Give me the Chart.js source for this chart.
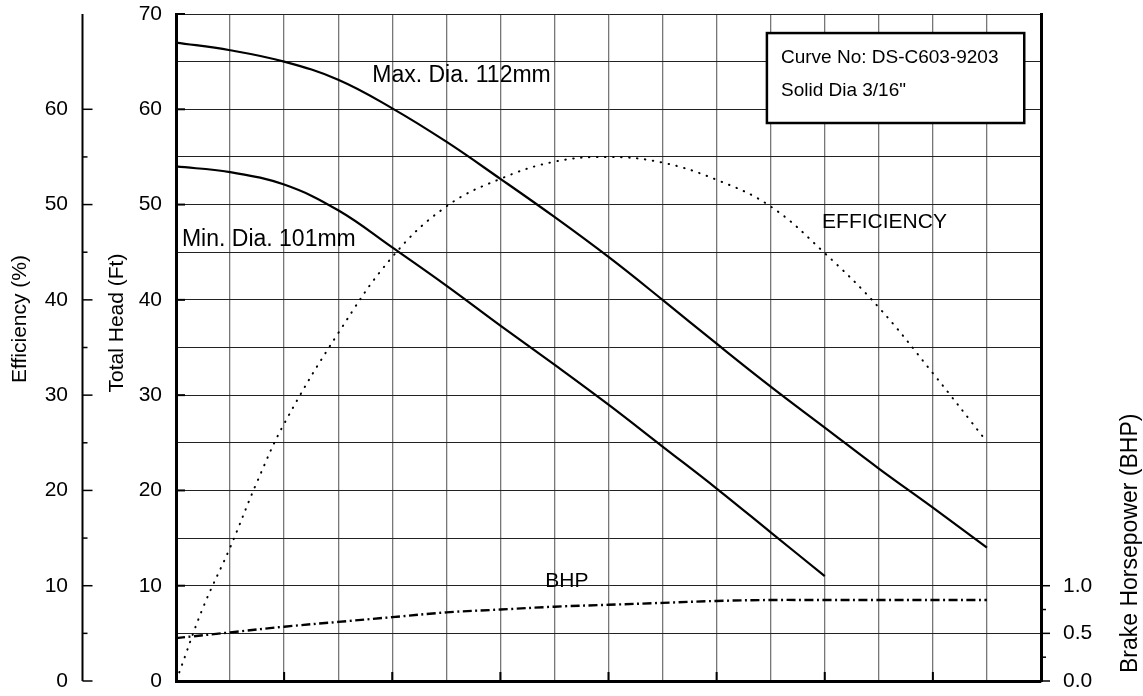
<!DOCTYPE html>
<html>
<head>
<meta charset="utf-8">
<script src="https://cdn.jsdelivr.net/npm/chart.js@4/dist/chart.umd.min.js"></script>
<style>
  html, body { margin: 0; padding: 0; background: #fff; }
  #wrap { width: 1143px; height: 696px; position: relative; }
</style>
</head>
<body>
<div id="wrap"><canvas id="pumpChart"></canvas></div>
<script>
// flow axis has no labels, points are placed on the 16 grid columns
const maxDiaFlow = [0, 1, 2, 3, 4, 5, 6, 7, 8, 9, 10, 11, 12, 13, 14, 15];
const maxDiaHead = [67.0, 66.2, 65.0, 63.1, 60.1, 56.6, 52.7, 48.7, 44.5, 40.0, 35.4, 30.9, 26.6, 22.3, 18.2, 14.0];

const minDiaFlow = [0, 1, 2, 3, 4, 5, 6, 7, 8, 9, 10, 11, 12];
const minDiaHead = [54.0, 53.4, 52.1, 49.4, 45.5, 41.5, 37.3, 33.2, 29.0, 24.6, 20.2, 15.6, 11.0];

const effFlow = [0.06, 0.5, 1, 1.5, 2, 3, 4, 5, 6, 7, 8, 9, 10, 11, 12, 13, 14, 15];
const effPct = [0.9, 7.7, 14.0, 20.9, 27.0, 36.5, 44.5, 49.8, 52.7, 54.5, 55.0, 54.4, 52.6, 49.8, 44.9, 39.2, 32.3, 25.1];

const bhpFlow = [0, 1, 2, 3, 4, 5, 6, 7, 8, 9, 10, 11, 12, 13, 14, 15];
const bhpVals = [0.45, 0.51, 0.57, 0.62, 0.67, 0.72, 0.75, 0.78, 0.80, 0.82, 0.84, 0.85, 0.85, 0.85, 0.85, 0.85];

const headTicks = [0, 10, 20, 30, 40, 50, 60, 70];
const effTicks = [0, 10, 20, 30, 40, 50, 60];
const bhpTicks = [0, 0.5, 1.0];

const FONT = '"Liberation Sans", Arial, Helvetica, sans-serif';
Chart.defaults.font.family = FONT;
Chart.defaults.color = '#000';

function pts(xs, ys) {
  return xs.map((x, i) => ({ x: x, y: ys[i] }));
}

// big tick paddings would otherwise push the plot area in
function fixWidth(w) {
  return s => { s.width = w; s.paddingTop = 0; s.paddingBottom = 0; };
}

// curve labels, placed in data units (flow column, head ft)
const curveLabels = [
  { text: 'Max. Dia. 112mm', x: 3.63, y: 62.85, size: 23 },
  { text: 'Min. Dia. 101mm', x: 0.11, y: 45.65, size: 23 },
  { text: 'EFFICIENCY', x: 11.95, y: 47.54, size: 21 },
  { text: 'BHP', x: 6.83, y: 9.86, size: 21 }
];

const extras = {
  id: 'extras',
  afterDraw(chart) {
    const c = chart.ctx;
    const xs = chart.scales.x;
    const ys = chart.scales.y;
    const bs = chart.scales.yBhp;
    const area = chart.chartArea;
    c.save();
    c.strokeStyle = '#000';
    c.fillStyle = '#000';

    // efficiency axis line + ticks
    const ex = 82.5;
    c.lineWidth = 2;
    c.beginPath();
    c.moveTo(ex, ys.getPixelForValue(70));
    c.lineTo(ex, ys.getPixelForValue(0));
    c.stroke();
    c.lineWidth = 1.5;
    for (let v = 0; v <= 60; v += 5) {
      const py = ys.getPixelForValue(v);
      c.beginPath();
      c.moveTo(ex, py);
      c.lineTo(ex + (v % 10 === 0 ? 10 : 5), py);
      c.stroke();
    }

    // inner ticks on head axis
    c.lineWidth = 2;
    headTicks.forEach(v => {
      const py = ys.getPixelForValue(v);
      c.beginPath();
      c.moveTo(area.left, py);
      c.lineTo(area.left + 9, py);
      c.stroke();
    });

    // bottom ticks every 2 columns
    for (let v = 0; v <= 16; v += 2) {
      const px = xs.getPixelForValue(v);
      c.beginPath();
      c.moveTo(px, area.bottom);
      c.lineTo(px, area.bottom - 9);
      c.stroke();
    }

    // bhp ticks
    c.lineWidth = 1.5;
    [0, 0.25, 0.5, 0.75, 1].forEach(v => {
      const py = bs.getPixelForValue(v);
      c.beginPath();
      c.moveTo(area.right, py);
      c.lineTo(area.right + (v * 100 % 50 === 0 ? 9 : 5), py);
      c.stroke();
    });

    // curve labels
    c.textBaseline = 'alphabetic';
    c.textAlign = 'left';
    curveLabels.forEach(l => {
      c.font = l.size + 'px ' + FONT;
      c.fillText(l.text, xs.getPixelForValue(l.x), ys.getPixelForValue(l.y));
    });

    // info box
    const bx0 = xs.getPixelForValue(10.93), bx1 = xs.getPixelForValue(15.69);
    const by0 = ys.getPixelForValue(68.0), by1 = ys.getPixelForValue(58.56);
    c.fillStyle = '#fff';
    c.fillRect(bx0, by0, bx1 - bx0, by1 - by0);
    c.lineWidth = 2.5;
    c.strokeRect(bx0, by0, bx1 - bx0, by1 - by0);
    c.fillStyle = '#000';
    c.font = '19px ' + FONT;
    c.fillText('Curve No: DS-C603-9203', xs.getPixelForValue(11.19), ys.getPixelForValue(64.86));
    c.fillText('Solid Dia 3/16"', xs.getPixelForValue(11.19), ys.getPixelForValue(61.39));

    // axis titles
    c.textBaseline = 'middle';
    c.save();
    c.translate(20, 319);
    c.rotate(-Math.PI / 2);
    c.textAlign = 'center';
    c.font = '21px ' + FONT;
    c.fillText('Efficiency (%)', 0, 0);
    c.restore();

    c.save();
    c.translate(117, 323);
    c.rotate(-Math.PI / 2);
    c.textAlign = 'center';
    c.font = '21px ' + FONT;
    c.fillText('Total Head (Ft)', 0, 0);
    c.restore();

    c.save();
    c.translate(1131, 673);
    c.rotate(-Math.PI / 2);
    c.textAlign = 'left';
    c.font = '23px ' + FONT;
    c.fillText('Brake Horsepower (BHP)', 0, 0);
    c.restore();

    c.restore();
  }
};

const ctx = document.getElementById('pumpChart').getContext('2d');
new Chart(ctx, {
  type: 'line',
  data: {
    datasets: [
      {
        label: 'Max. Dia. 112mm',
        data: pts(maxDiaFlow, maxDiaHead),
        borderColor: '#000',
        borderWidth: 2.2,
        pointRadius: 0,
        tension: 0.4,
        yAxisID: 'y'
      },
      {
        label: 'Min. Dia. 101mm',
        data: pts(minDiaFlow, minDiaHead),
        borderColor: '#000',
        borderWidth: 2.2,
        pointRadius: 0,
        tension: 0.4,
        yAxisID: 'y'
      },
      {
        label: 'Efficiency',
        data: pts(effFlow, effPct),
        borderColor: '#000',
        borderWidth: 2,
        borderDash: [0.5, 7.5],
        borderCapStyle: 'round',
        pointRadius: 0,
        tension: 0.4,
        yAxisID: 'yEff'
      },
      {
        label: 'BHP',
        data: pts(bhpFlow, bhpVals),
        borderColor: '#000',
        borderWidth: 2.4,
        borderDash: [9, 3.5, 2, 3.5],
        pointRadius: 0,
        tension: 0.4,
        yAxisID: 'yBhp'
      }
    ]
  },
  options: {
    responsive: true,
    maintainAspectRatio: false,
    animation: false,
    layout: { padding: { top: 14, left: 0, right: 0, bottom: 0 } },
    plugins: {
      legend: { display: false },
      tooltip: { enabled: false }
    },
    scales: {
      x: {
        type: 'linear',
        min: 0,
        max: 16,
        ticks: { display: false, stepSize: 1 },
        grid: { color: '#777', lineWidth: 1.3, drawTicks: false },
        border: { display: true, color: '#000', width: 3 },
        afterFit: s => { s.height = 15; }
      },
      yEff: {
        position: 'left',
        weight: 10,
        min: 0,
        max: 70,
        ticks: {
          stepSize: 10,
          padding: 32,
          font: { size: 21 },
          callback: v => effTicks.includes(v) ? v : ''
        },
        grid: { display: false, drawTicks: false },
        border: { display: false },
        afterFit: fixWidth(100)
      },
      y: {
        position: 'left',
        weight: 0,
        min: 0,
        max: 70,
        ticks: {
          stepSize: 5,
          padding: 14,
          font: { size: 21 },
          callback: v => headTicks.includes(v) ? v : ''
        },
        grid: { color: '#222', lineWidth: 1, drawTicks: false },
        border: { display: true, color: '#000', width: 3 },
        afterFit: fixWidth(76)
      },
      yBhp: {
        position: 'right',
        min: 0,
        max: 7,
        afterBuildTicks: s => { s.ticks = bhpTicks.map(v => ({ value: v })); },
        ticks: {
          padding: 22,
          font: { size: 21 },
          callback: v => v.toFixed(1)
        },
        grid: { display: false, drawTicks: false },
        border: { display: true, color: '#000', width: 3 },
        afterFit: fixWidth(102)
      }
    }
  },
  plugins: [extras]
});
</script>
</body>
</html>
